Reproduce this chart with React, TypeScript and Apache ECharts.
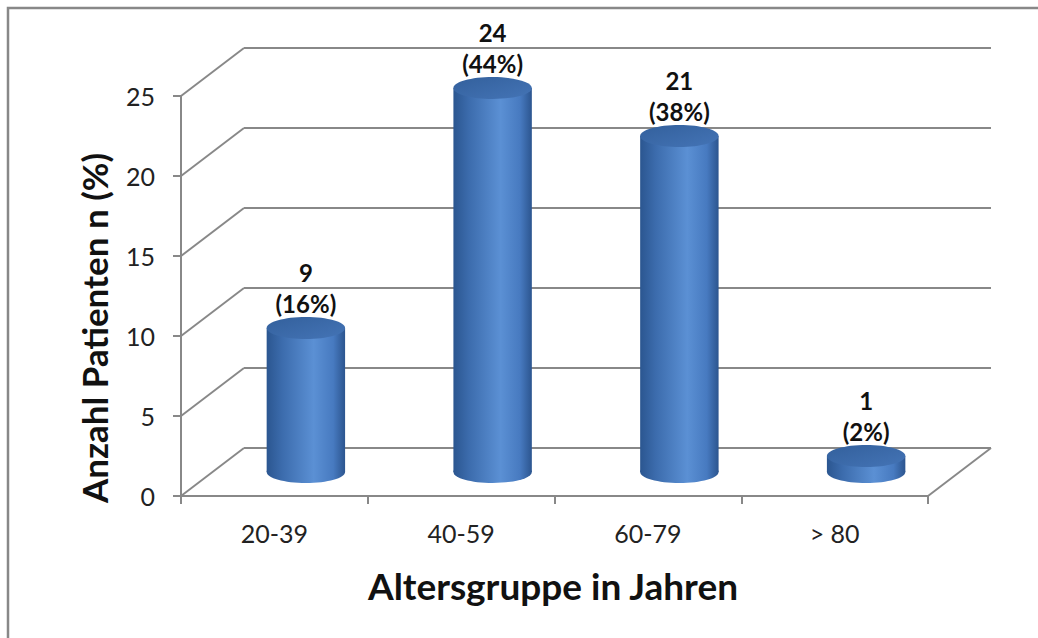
import React, { useEffect, useRef } from "react";
import * as echarts from "echarts";

const categories = ["20-39", "40-59", "60-79", "> 80"];
const counts = [9, 24, 21, 1];
const percents = [16, 44, 38, 2];
const yTicks = [0, 5, 10, 15, 20, 25];
const xTitle = "Altersgruppe in Jahren";
const yTitle = "Anzahl Patienten n (%)";

const DX = 63;
const DY = -48;
const LINE = "#888888";
const FONT = "Lato, 'Open Sans', sans-serif";

export default function App() {
  const ref = useRef<HTMLDivElement>(null);
  useEffect(() => {
    if (!ref.current) return;
    const chart = echarts.init(ref.current, null, { renderer: "svg" });
    const wallRender = (params: any, api: any) => {
      const cs = params.coordSys;
      const children: any[] = [];
      yTicks.forEach((v) => {
        const y = api.coord([0, v])[1];
        children.push({
          type: "line",
          shape: { x1: cs.x, y1: y, x2: cs.x + DX, y2: y + DY },
          style: { stroke: LINE, lineWidth: 2 },
        });
        children.push({
          type: "line",
          shape: { x1: cs.x + DX, y1: y + DY, x2: cs.x + cs.width + DX, y2: y + DY },
          style: { stroke: LINE, lineWidth: 2 },
        });
      });
      const y0 = api.coord([0, 0])[1];
      children.push({
        type: "line",
        shape: { x1: cs.x + cs.width, y1: y0, x2: cs.x + cs.width + DX, y2: y0 + DY },
        style: { stroke: LINE, lineWidth: 2 },
      });
      return { type: "group", children };
    };
    const cylRender = (params: any, api: any) => {
      const i = api.value(0);
      const v = api.value(1);
      const p = api.value(2);
      const top = api.coord([i, v]);
      const bot = api.coord([i, 0]);
      const cx = top[0] + DX / 2;
      const ty = top[1] + DY / 2;
      const by = bot[1] + DY / 2;
      const w = api.size([1, 0])[0] * 0.42;
      const rx = w / 2;
      const ry = 11;
      const bodyGrad = new echarts.graphic.LinearGradient(0, 0, 1, 0, [
        { offset: 0, color: "#2b5690" },
        { offset: 0.2, color: "#3c6cad" },
        { offset: 0.6, color: "#5b90d4" },
        { offset: 0.85, color: "#477ac0" },
        { offset: 1, color: "#2c558f" },
      ]);
      const topGrad = new echarts.graphic.LinearGradient(0, 0, 1, 1, [
        { offset: 0, color: "#33609c" },
        { offset: 1, color: "#4474b6" },
      ]);
      return {
        type: "group",
        children: [
          { type: "ellipse", shape: { cx, cy: by, rx, ry }, style: { fill: bodyGrad } },
          { type: "rect", shape: { x: cx - rx, y: ty, width: w, height: by - ty }, style: { fill: bodyGrad } },
          { type: "ellipse", shape: { cx, cy: ty, rx, ry }, style: { fill: topGrad } },
          {
            type: "text",
            x: cx,
            y: ty - 9,
            style: {
              text: `${v}\n(${p}%)`,
              align: "center",
              verticalAlign: "bottom",
              font: `bold 24px ${FONT}`,
              lineHeight: 31,
              fill: "#111",
            },
          },
        ],
      };
    };
    chart.setOption({
      animation: false,
      backgroundColor: "#ffffff",
      graphic: [
        {
          type: "rect",
          shape: { x: 8, y: 8, width: 1040, height: 640 },
          style: { fill: "none", stroke: "#888888", lineWidth: 2.5 },
          silent: true,
        },
        {
          type: "text",
          x: 553,
          y: 585,
          style: {
            text: xTitle,
            align: "center",
            verticalAlign: "middle",
            font: `bold 37px ${FONT}`,
            fill: "#111",
          },
        },
        {
          type: "text",
          x: 94,
          y: 328,
          rotation: Math.PI / 2,
          style: {
            text: yTitle,
            align: "center",
            verticalAlign: "middle",
            font: `bold 35px ${FONT}`,
            fill: "#111",
          },
        },
      ],
      grid: { left: 181, right: 110, top: 96, bottom: 142, containLabel: false },
      xAxis: {
        type: "category",
        data: categories,
        axisLine: { show: true, lineStyle: { color: LINE, width: 2 } },
        axisTick: { show: true, length: 8, lineStyle: { color: LINE, width: 2 } },
        axisLabel: { fontSize: 25, color: "#222", fontFamily: FONT, margin: 24 },
        splitLine: { show: false },
      },
      yAxis: {
        type: "value",
        min: 0,
        max: 25,
        interval: 5,
        axisLine: { show: true, lineStyle: { color: LINE, width: 2 } },
        axisTick: { show: true, length: 8, lineStyle: { color: LINE, width: 2 } },
        axisLabel: { fontSize: 25, color: "#222", fontFamily: FONT, margin: 26 },
        splitLine: { show: false },
      },
      series: [
        {
          type: "custom",
          name: "walls",
          renderItem: wallRender,
          data: [[0, 0]],
          silent: true,
          z: 1,
        },
        {
          type: "custom",
          name: "Anzahl",
          renderItem: cylRender,
          encode: { x: 0, y: 1 },
          data: counts.map((v, i) => [i, v, percents[i]]),
          z: 5,
        },
      ],
    });
    return () => chart.dispose();
  }, []);
  return (
    <div
      ref={ref}
      style={{ position: "absolute", left: 0, top: 0, width: 1038, height: 638 }}
    />
  );
}
